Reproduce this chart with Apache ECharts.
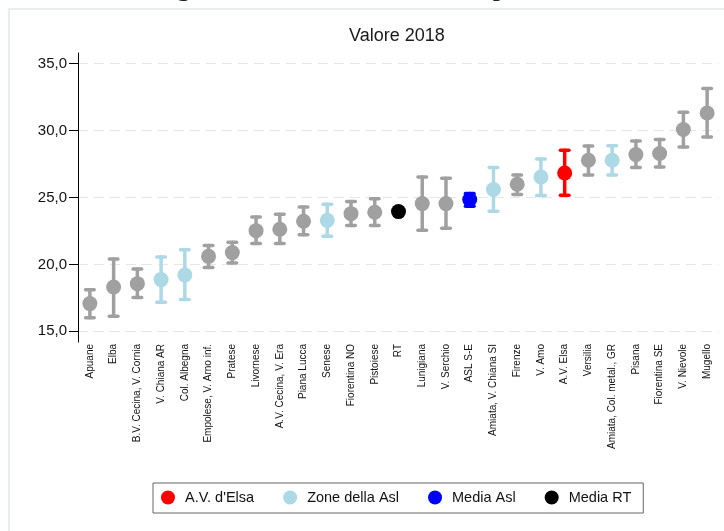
<!DOCTYPE html>
<html>
<head>
<meta charset="utf-8">
<title>Valore 2018</title>
<script src="https://cdn.jsdelivr.net/npm/echarts@6/dist/echarts.min.js"></script>
<style>
  html, body { margin: 0; padding: 0; background: #fff; }
  #chart { width: 724px; height: 531px; }
</style>
</head>
<body>
<div id="chart"></div>
<script>
// zone, ordinate per valore crescente
const categorie = [
  'Apuane', 'Elba', 'B.V. Cecina, V. Cornia', 'V. Chiana AR', 'Col. Albegna',
  'Empolese, V. Arno inf.', 'Pratese', 'Livornese', 'A.V. Cecina, V. Era', 'Piana Lucca',
  'Senese', 'Fiorentina NO', 'Pistoiese', 'RT', 'Lunigiana', 'V. Serchio', 'ASL S-E',
  'Amiata, V. Chiana SI', 'Firenze', 'V. Amo', 'A.V. Elsa', 'Versilia',
  'Amiata, Col. metal., GR', 'Pisana', 'Fiorentina SE', 'V. Nievole', 'Mugello'
];
const valori = [17.07, 18.31, 18.56, 18.86, 19.21, 20.60, 20.88, 22.52, 22.62, 23.22,
  23.29, 23.79, 23.89, 23.94, 24.54, 24.54, 24.84, 25.59, 25.98, 26.53, 26.83, 27.78,
  27.78, 28.20, 28.28, 30.07, 31.31];
// intervalli di confidenza (RT senza)
const limInf = [16.02, 16.12, 17.52, 17.17, 17.37, 19.76, 20.11, 21.55, 21.55, 22.22,
  22.10, 22.90, 22.90, null, 22.55, 22.70, 24.35, 23.97, 25.21, 25.14, 25.16, 26.68,
  26.68, 27.23, 27.28, 28.77, 29.52];
const limSup = [18.11, 20.40, 19.66, 20.55, 21.10, 21.40, 21.65, 23.54, 23.74, 24.29,
  24.49, 24.69, 24.91, null, 26.53, 26.43, 25.30, 27.23, 26.68, 27.88, 28.52, 28.85,
  28.87, 29.22, 29.32, 31.36, 33.13];
// gruppo di ogni zona
const gruppi = ['altro', 'altro', 'altro', 'zona', 'zona', 'altro', 'altro', 'altro', 'altro', 'altro',
  'zona', 'altro', 'altro', 'rt', 'altro', 'altro', 'asl', 'zona', 'altro', 'zona', 'avelsa', 'altro',
  'zona', 'altro', 'altro', 'altro', 'altro'];
const tickY = [15, 20, 25, 30, 35];

const colori = { altro: '#a0a0a0', zona: '#add8e6', asl: '#0000ff', rt: '#000000', avelsa: '#ff0000' };
const nomi = { altro: 'Altre zone', zona: 'Zone della Asl', asl: 'Media Asl', rt: 'Media RT', avelsa: "A.V. d'Elsa" };
const font = 'Liberation Sans, Arial, sans-serif';

let chart = echarts.init(document.getElementById('chart'));

// barre di errore
let datiErr = [];
limInf.forEach(function (lo, i) {
  if (lo == null) return;
  datiErr.push({ value: [i, lo, limSup[i]], itemStyle: { color: colori[gruppi[i]] } });
});

function renderErr(params, api) {
  let x = api.coord([api.value(0), api.value(1)])[0];
  let yLo = api.coord([api.value(0), api.value(1)])[1];
  let yHi = api.coord([api.value(0), api.value(2)])[1];
  let st = { stroke: api.visual('color'), lineWidth: 3.5, lineCap: 'round' };
  let cap = 4.3;
  return {
    type: 'group',
    children: [
      { type: 'line', shape: { x1: x, y1: yLo, x2: x, y2: yHi }, style: st },
      { type: 'line', shape: { x1: x - cap, y1: yHi, x2: x + cap, y2: yHi }, style: st },
      { type: 'line', shape: { x1: x - cap, y1: yLo, x2: x + cap, y2: yLo }, style: st }
    ]
  };
}

// un scatter per gruppo, così la legenda prende i colori
let serieDot = ['altro', 'zona', 'asl', 'rt', 'avelsa'].map(function (g) {
  let d = [];
  valori.forEach(function (v, i) { if (gruppi[i] === g) d.push([i, v]); });
  return {
    name: nomi[g],
    type: 'scatter',
    symbol: 'circle',
    symbolSize: 15,
    itemStyle: { color: colori[g], opacity: 1 },
    data: d,
    z: 3
  };
});

let option = {
  animation: false,
  textStyle: { fontFamily: font },
  title: {
    text: 'Valore 2018',
    left: 349, top: 27, padding: 0,
    textStyle: { fontSize: 18, fontWeight: 'normal', color: '#1a1a1a', fontFamily: font }
  },
  legend: {
    data: ["A.V. d'Elsa", 'Zone della Asl', 'Media Asl', 'Media RT'],
    left: 153, top: 483,
    padding: [7, 12, 8, 8],
    itemGap: 29,
    itemWidth: 14, itemHeight: 14,
    icon: 'circle',
    borderColor: '#666', borderWidth: 1,
    textStyle: { fontSize: 14.5, color: '#111', fontFamily: font, padding: [0, 0, 0, 5] }
  },
  grid: { left: 78, right: 5, top: 53, bottom: 189, containLabel: false },
  xAxis: {
    type: 'category',
    data: categorie,
    boundaryGap: true,
    axisLine: { show: false },
    axisTick: { show: false },
    axisLabel: { rotate: 90, interval: 0, fontSize: 10, margin: 2, color: '#111', fontFamily: font },
    splitLine: { show: false }
  },
  yAxis: {
    type: 'value',
    min: 14.2, max: 35.79,
    axisLine: { show: true, lineStyle: { color: '#000', width: 1 } },
    axisTick: { show: true, length: 9, customValues: tickY, lineStyle: { color: '#000' } },
    axisLabel: {
      customValues: tickY, fontSize: 15, margin: 11, color: '#111', fontFamily: font,
      formatter: function (v) { return v.toFixed(1).replace('.', ','); }
    },
    splitLine: { show: true, lineStyle: { color: '#e6e6e6', type: [10, 6], width: 1 } }
  },
  graphic: [
    { type: 'rect', silent: true, z: -10,
      shape: { x: 9, y: 9, width: 800, height: 600 },
      style: { fill: 'none', stroke: '#e8eeee', lineWidth: 2 } },
    { type: 'text', silent: true, left: 152, top: -27,
      style: { text: 'Figura 2.8: Valore indicatore per zona', fontSize: 29,
        fontFamily: 'Liberation Serif, Times New Roman, serif', fill: '#222' } }
  ],
  series: [
    {
      name: 'err',
      type: 'custom',
      renderItem: renderErr,
      encode: { x: 0, y: [1, 2] },
      data: datiErr,
      z: 2
    }
  ].concat(serieDot)
};

chart.setOption(option);
</script>
</body>
</html>
